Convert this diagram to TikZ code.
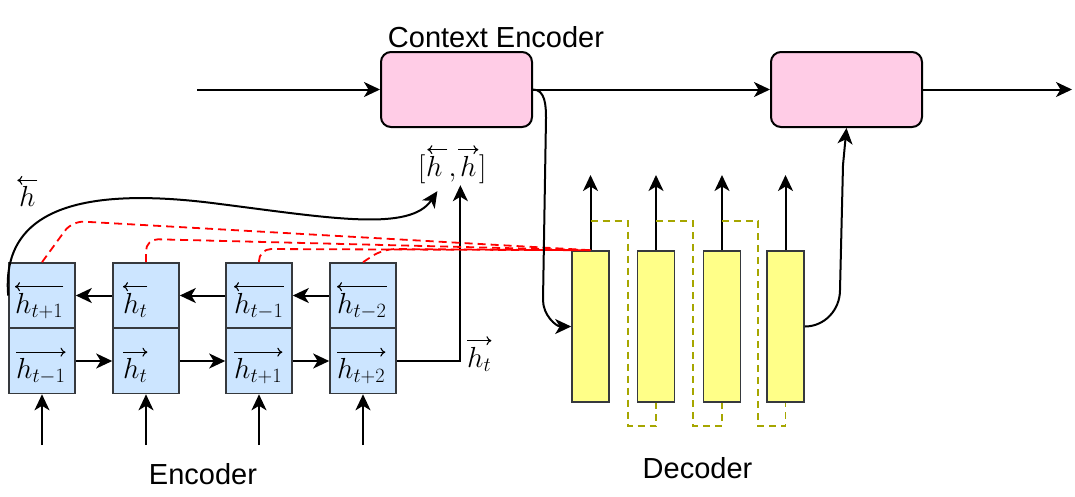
\RequirePackage{fix-cm}
\documentclass[tikz,border=0pt]{standalone}
\usepackage{fontspec}
\newfontfamily\labelfont{Liberation Sans}
\usetikzlibrary{arrows.meta}
\definecolor{eblue}{HTML}{CCE5FF}
\definecolor{bstroke}{HTML}{36393D}
\definecolor{dyellow}{HTML}{FFFF88}
\definecolor{cpink}{HTML}{FFCCE6}
\definecolor{olivedash}{HTML}{A6A600}
\begin{document}
\begin{tikzpicture}[x=1pt,y=-1pt,
  ebox/.style={draw=bstroke, fill=eblue, line width=1.6pt, minimum width=66pt, minimum height=65pt, inner sep=0pt},
  dbox/.style={draw=bstroke, fill=dyellow, line width=1.6pt, minimum width=37pt, minimum height=151pt, inner sep=0pt},
  cbox/.style={draw=black, fill=cpink, line width=2pt, rounded corners=10pt, minimum width=151pt, minimum height=75pt, inner sep=0pt},
  mlbl/.style={anchor=base west, inner sep=0pt, font=\fontsize{29}{34}\selectfont},
  ttl/.style={anchor=base, inner sep=0pt, font=\labelfont\fontsize{29}{34}\selectfont},
  arr/.style={draw=black, line width=2pt, -{Stealth[length=16pt, width=15pt, inset=4.5pt]}},
  ovl/.style={draw=black, line width=1.1pt, -{Computer Modern Rightarrow[length=5pt, width=9pt]}},
  reddash/.style={draw=red, line width=1.8pt, dash pattern=on 8pt off 5pt, rounded corners=12pt},
  olivepath/.style={draw=olivedash, line width=1.8pt, dash pattern=on 7pt off 5pt}
]
\useasboundingbox (0,0) rectangle (1075,496);

% ---------- encoder boxes ----------
\node[ebox] (e1t) at (42,295.5) {};
\node[ebox] (e1b) at (42,361) {};
\node[ebox] (e2t) at (146,295.5) {};
\node[ebox] (e2b) at (146,361) {};
\node[ebox] (e3t) at (259,295.5) {};
\node[ebox] (e3b) at (259,361) {};
\node[ebox] (e4t) at (363,295.5) {};
\node[ebox] (e4b) at (363,361) {};

% labels (arrow accents drawn above)
\node[mlbl] (l1t) at (15,313) {$h_{t+1}$};
\node[mlbl] (l2t) at (123,313) {$h_t$};
\node[mlbl] (l3t) at (234,313) {$h_{t-1}$};
\node[mlbl] (l4t) at (337,313) {$h_{t-2}$};
\node[mlbl] (l1b) at (16,378.5) {$h_{t-1}$};
\node[mlbl] (l2b) at (123,378.5) {$h_t$};
\node[mlbl] (l3b) at (234,378.5) {$h_{t+1}$};
\node[mlbl] (l4b) at (337,378.5) {$h_{t+2}$};
\foreach \l in {l1t,l2t,l3t,l4t}
  \draw[ovl] ([yshift=6pt]\l.north east) -- ([yshift=6pt]\l.north west);
\foreach \l in {l1b,l2b,l3b,l4b}
  \draw[ovl] ([yshift=6pt]\l.north west) -- ([yshift=6pt]\l.north east);

% recurrent arrows
\draw[arr] (e4t.west) -- (e3t.east);
\draw[arr] (e3t.west) -- (e2t.east);
\draw[arr] (e2t.west) -- (e1t.east);
\draw[arr] (e1b.east) -- (e2b.west);
\draw[arr] (e2b.east) -- (e3b.west);
\draw[arr] (e3b.east) -- (e4b.west);

% inputs
\coordinate (in1) at (42,445);
\coordinate (in2) at (146,445);
\coordinate (in3) at (259,445);
\coordinate (in4) at (363,445);
\draw[arr] (in1) -- (e1b.south);
\draw[arr] (in2) -- (e2b.south);
\draw[arr] (in3) -- (e3b.south);
\draw[arr] (in4) -- (e4b.south);

\node[ttl] (enc) at (203,484) {Encoder};

% concatenated state [h , h]
\node[mlbl] (hbl) at (418,176) {$[$};
\node[mlbl] (hha) at (426,176) {$h$};
\node[mlbl] (hcm) at (448.5,176) {$,$};
\node[mlbl] (hhb) at (460,176) {$h$};
\node[mlbl] (hbr) at (479,176) {$]$};
\draw[ovl] ([xshift=13pt,yshift=6pt]hha.north) -- ([xshift=-7pt,yshift=6pt]hha.north);
\draw[ovl] ([xshift=-10pt,yshift=6pt]hhb.north) -- ([xshift=10pt,yshift=6pt]hhb.north);

\node[mlbl] (hl) at (19,206.7) {$h$};
\draw[ovl] ([xshift=10pt,yshift=6pt]hl.north) -- ([xshift=-10pt,yshift=6pt]hl.north);
\node[mlbl] (hr) at (467,367) {$h_t$};
\draw[ovl] ([yshift=6pt]hr.north west) -- ([yshift=6pt]hr.north east);

\draw[arr] (e4b.east) -| ([xshift=-8pt,yshift=-9pt]hhb.south);
\draw[arr] (e1t.west) .. controls (0,200) and (100,188) .. (220,204)
   .. controls (330,218) and (410,232) .. ([xshift=3pt,yshift=-15pt]hha.south);

% ---------- decoder ----------
\node[dbox] (d1) at (590.5,326.5) {};
\node[dbox] (d2) at (656,326.5) {};
\node[dbox] (d3) at (722,326.5) {};
\node[dbox] (d4) at (785.5,326.5) {};

\coordinate (o1) at (590.5,175);
\coordinate (o2) at (656,175);
\coordinate (o3) at (722,175);
\coordinate (o4) at (785.5,175);
\draw[arr] (d1.north) -- (o1);
\draw[arr] (d2.north) -- (o2);
\draw[arr] (d3.north) -- (o3);
\draw[arr] (d4.north) -- (o4);

\draw[olivepath] (590.5,221) -- (628,221) -- (628,426) -- (656,426) -- (d2.south);
\draw[olivepath] (656,221) -- (693,221) -- (693,426) -- (722,426) -- (d3.south);
\draw[olivepath] (722,221) -- (758,221) -- (758,426) -- (785.5,426) -- (d4.south);

\node[ttl] (dec) at (697.5,478) {Decoder};

% attention (red dashed)
\draw[reddash] (e1t.north) -- (72,221) -- (d1.north);
\draw[reddash] (e2t.north) -- (146,239) -- (d1.north);
\draw[reddash] (e3t.north) -- (259,249) -- (d1.north);
\draw[reddash] (e4t.north) -- (383,249) -- (d1.north);

% ---------- context encoder ----------
\node[cbox] (c1) at (456.5,89.5) {};
\node[cbox] (c2) at (846.5,89.5) {};
\node[ttl] (ctx) at (496,47) {Context Encoder};

\coordinate (cin) at (197,89.5);
\coordinate (cout) at (1072,89.5);
\draw[arr] (cin) -- (c1.west);
\draw[arr] (c1.east) -- (c2.west);
\draw[arr] (c2.east) -- (cout);

\draw[arr] (c1.east) to[out=0,in=90] (546,118) -- (543,300) to[out=-90,in=180] (d1.west);
\draw[arr] (d4.east) to[out=0,in=-90] (840,290) -- (843,165) -- (c2.south);
\end{tikzpicture}
\end{document}
